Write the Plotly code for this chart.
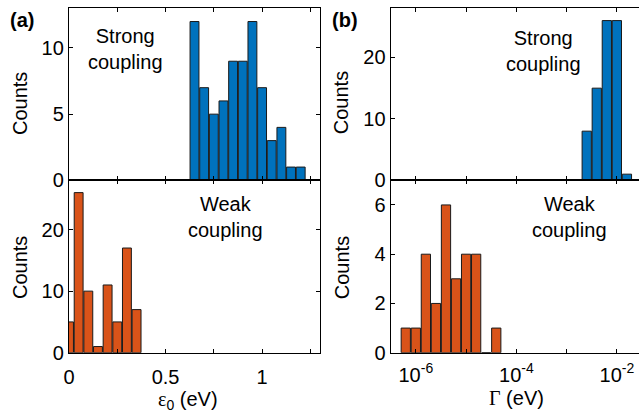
import plotly.graph_objects as go

# ---- data ----
eps_bins_strong = [0.65, 0.70, 0.75, 0.80, 0.85, 0.90, 0.95, 1.00, 1.05, 1.10, 1.15, 1.20]
eps_counts_strong = [12, 7, 5, 6, 9, 9, 12, 7, 3, 4, 1, 1]
eps_bins_weak = [0.00, 0.05, 0.10, 0.15, 0.20, 0.25, 0.30, 0.35]
eps_counts_weak = [5, 26, 10, 1, 11, 5, 17, 7]
eps_bin_width = 0.05

gam_log_bins_strong = [-2.6, -2.4, -2.2, -2.0, -1.8]
gam_counts_strong = [8, 15, 26, 26, 1]
gam_log_bins_weak = [-6.2, -6.0, -5.8, -5.6, -5.4, -5.2, -5.0, -4.8, -4.6, -4.4]
gam_counts_weak = [1, 1, 4, 2, 6, 3, 4, 4, 0, 1]
gam_bin_width = 0.2

eps_tickvals = [0, 0.25, 0.5, 0.75, 1.0, 1.25]
eps_ticktext = ["0", " ", "0.5", " ", "1", " "]
gam_tickvals = [-6, -5, -4, -3, -2]
gam_ticktext = ["10<sup>-6</sup>", " ", "10<sup>-4</sup>", " ", "10<sup>-2</sup>"]

BLUE = "#0072BD"
ORANGE = "#D95319"
EDGE = "#1a1a1a"
FONT = "Liberation Sans, Arial, sans-serif"
FS = 20

W, H = 639, 418
def px(x):
    return x / W
def py(y):
    return 1 - y / H

fig = go.Figure()

def bars(x, y, w, color, xa, ya):
    fig.add_trace(go.Bar(
        x=x, y=y, width=[w * 0.92] * len(x),
        marker=dict(color=color, line=dict(color=EDGE, width=1)),
        xaxis=xa, yaxis=ya, hoverinfo="x+y"))

bars(eps_bins_strong, eps_counts_strong, eps_bin_width, BLUE, "x", "y")
bars(eps_bins_weak, eps_counts_weak, eps_bin_width, ORANGE, "x2", "y2")
bars(gam_log_bins_strong, gam_counts_strong, gam_bin_width, BLUE, "x3", "y3")
bars(gam_log_bins_weak, gam_counts_weak, gam_bin_width, ORANGE, "x4", "y4")

xa_dom = [px(69), px(320)]
xb_dom = [px(390.7), 1.0]
ytop_dom = [py(180.3), py(8.3)]
ybot_dom = [py(352.7), py(180.3)]

common = dict(showline=True, linecolor="black", linewidth=1.3, ticks="inside",
              ticklen=4, tickcolor="black", tickwidth=1, showgrid=False,
              zeroline=False, automargin=False,
              tickfont=dict(family=FONT, size=FS, color="black"))

fig.update_layout(
    template="none", autosize=False,
    width=W, height=H, margin=dict(l=0, r=0, t=0, b=0, pad=0),
    paper_bgcolor="white", plot_bgcolor="white", showlegend=False,
    font=dict(family=FONT, size=FS, color="black"),
    xaxis=dict(domain=xa_dom, range=[0, 1.3], anchor="y", mirror="ticks",
               tickmode="array", tickvals=eps_tickvals, showticklabels=False, **common),
    yaxis=dict(domain=ytop_dom, range=[0, 13], anchor="x", mirror="ticks",
               tickmode="array", tickvals=[0, 5, 10], **common),
    xaxis2=dict(domain=xa_dom, range=[0, 1.3], anchor="y2", mirror="ticks",
                tickmode="array", tickvals=eps_tickvals, ticktext=eps_ticktext,
                ticklabelstandoff=6, **common),
    yaxis2=dict(domain=ybot_dom, range=[0, 28], anchor="x2", mirror="ticks",
                tickmode="array", tickvals=[0, 10, 20], **common),
    xaxis3=dict(domain=xb_dom, range=[-6.5, -1.56], anchor="y3", mirror="ticks",
                tickmode="array", tickvals=gam_tickvals, showticklabels=False, **common),
    yaxis3=dict(domain=ytop_dom, range=[0, 28], anchor="x3", mirror=False,
                tickmode="array", tickvals=[0, 10, 20], **common),
    xaxis4=dict(domain=xb_dom, range=[-6.5, -1.56], anchor="y4", mirror="ticks",
                tickmode="array", tickvals=gam_tickvals, ticktext=gam_ticktext,
                ticklabelstandoff=4, **common),
    yaxis4=dict(domain=ybot_dom, range=[0, 7], anchor="x4", mirror=False,
                tickmode="array", tickvals=[0, 2, 4, 6], **common),
)

def note(text, x, y, xref, yref, size=FS, bold=False, angle=0):
    fig.add_annotation(text=("<b>%s</b>" % text) if bold else text, x=x, y=y,
                       xref=xref, yref=yref, showarrow=False, textangle=angle,
                       font=dict(family=FONT, size=size, color="black"),
                       xanchor="center", yanchor="middle", align="center")

# in-panel labels
note("Strong<br>coupling", 0.295, 9.9, "x", "y")
note("Weak<br>coupling", 0.81, 22.1, "x2", "y2")
note("Strong<br>coupling", -3.46, 21.1, "x3", "y3")
note("Weak<br>coupling", -2.95, 5.52, "x4", "y4")

# panel letters
note("(a)", px(22), py(20), "paper", "paper", bold=True)
note("(b)", px(345), py(20), "paper", "paper", bold=True)

# axis titles
note("Counts", px(20), py(104), "paper", "paper", angle=-90)
note("Counts", px(20), py(268), "paper", "paper", angle=-90)
note("Counts", px(341.7), py(102.5), "paper", "paper", angle=-90)
note("Counts", px(341.7), py(267.5), "paper", "paper", angle=-90)
note('<span style="font-family:Liberation Serif">ε</span><sub>0</sub> (eV)',
     px(188), py(400), "paper", "paper")
note('<span style="font-family:Liberation Serif">Γ</span> (eV)',
     px(516.7), py(398), "paper", "paper")

fig.write_html("out.html", config={"displayModeBar": False},
               post_script="document.body.style.margin='0';document.body.style.overflow='hidden';")
